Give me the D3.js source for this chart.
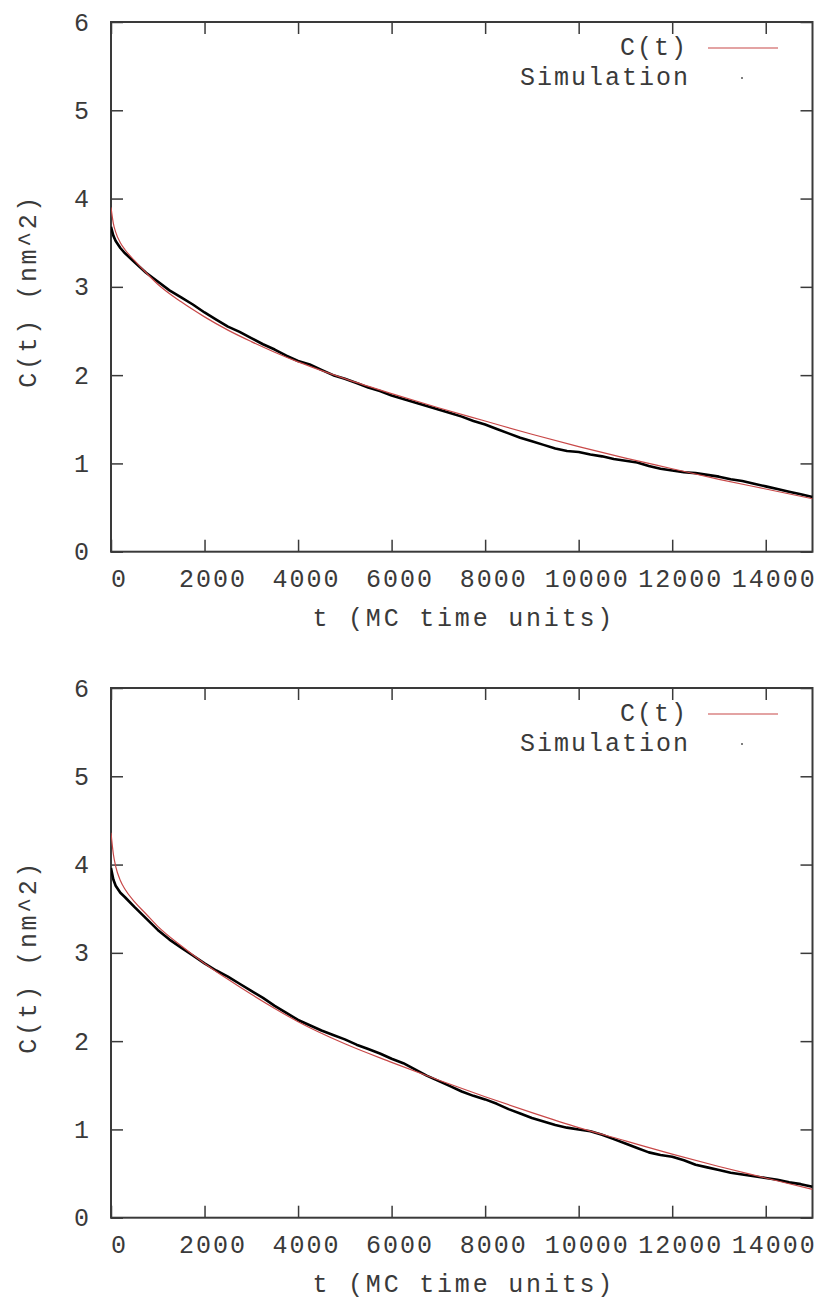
<!DOCTYPE html>
<html><head><meta charset="utf-8">
<script src="https://cdn.jsdelivr.net/npm/d3@7"></script>
<style>
html,body{margin:0;padding:0;background:#fff;}
svg text{font-family:"Liberation Mono",monospace;fill:#3a3a3a;}
</style></head>
<body><svg id="chart" width="819" height="1302"></svg>
<script>
// ---- data ----
const xTicks = [0, 2000, 4000, 6000, 8000, 10000, 12000, 14000];
const yTicks = [0, 1, 2, 3, 4, 5, 6];
const xTitle = "t (MC time units)";
const yTitle = "C(t) (nm^2)";
const legendFit = "C(t)";
const legendSim = "Simulation";

const fitT = [0,50,100,200,300,500,750,1000,1500,2000,2500,3000,3500,4000,5000,6000,7000,8000,9000,10000,11000,12000,13000,14000,15000];
const fitTop = [3.90,3.72,3.62,3.50,3.42,3.30,3.16,3.03,2.83,2.66,2.51,2.38,2.26,2.15,1.96,1.79,1.63,1.48,1.33,1.19,1.06,0.94,0.82,0.71,0.60];
const fitBottom = [4.36,4.12,3.98,3.82,3.72,3.58,3.44,3.30,3.08,2.88,2.70,2.53,2.37,2.22,1.97,1.76,1.56,1.37,1.19,1.02,0.87,0.72,0.58,0.45,0.32];

const simT = [0,50,100,200,300,500,750,1000,1250,1500,1750,2000,2250,2500,2750,3000,3250,3500,3750,4000,4250,4500,4750,5000,5250,5500,5750,6000,6250,6500,6750,7000,7250,7500,7750,8000,8250,8500,8750,9000,9250,9500,9750,10000,10250,10500,10750,11000,11250,11500,11750,12000,12250,12500,12750,13000,13250,13500,13750,14000,14250,14500,14750,15000];
const simTop = [3.68,3.58,3.52,3.44,3.38,3.28,3.16,3.06,2.96,2.88,2.80,2.71,2.63,2.55,2.49,2.42,2.35,2.29,2.22,2.16,2.12,2.06,2.00,1.96,1.91,1.86,1.82,1.77,1.73,1.69,1.65,1.61,1.57,1.53,1.48,1.44,1.39,1.34,1.29,1.25,1.21,1.17,1.14,1.13,1.10,1.08,1.05,1.03,1.01,0.97,0.94,0.92,0.90,0.89,0.87,0.85,0.82,0.80,0.77,0.74,0.71,0.68,0.65,0.62];
const simBottom = [3.96,3.83,3.76,3.68,3.63,3.52,3.39,3.26,3.15,3.06,2.97,2.88,2.80,2.73,2.65,2.57,2.49,2.40,2.32,2.24,2.18,2.12,2.07,2.02,1.96,1.91,1.86,1.80,1.75,1.68,1.61,1.55,1.49,1.43,1.38,1.34,1.29,1.23,1.18,1.13,1.09,1.05,1.02,1.00,0.98,0.94,0.89,0.84,0.79,0.74,0.71,0.69,0.65,0.60,0.57,0.54,0.51,0.49,0.47,0.45,0.43,0.40,0.38,0.35];

// ---- drawing ----
const svg = d3.select("#chart");
const L = 111, R = 812.5, PH = 529.7;
const panels = [
  {top: 22, fit: fitTop, sim: simTop},
  {top: 688, fit: fitBottom, sim: simBottom}
];
const FS = 25, LS = 2.0;
const FONT = '"Liberation Mono",monospace';
const x = d3.scaleLinear().domain([0, 15000]).range([L, R]);

panels.forEach(p => {
  const y = d3.scaleLinear().domain([0, 6]).range([p.top + PH, p.top]);
  const g = svg.append("g");
  const tickLen = 12;
  const axisColor = "#3a3a3a";

  // frame
  g.append("rect").attr("x", L).attr("y", p.top).attr("width", R - L).attr("height", PH)
    .attr("fill", "none").attr("stroke", axisColor).attr("stroke-width", 2);

  // x ticks (bottom + mirrored top)
  const xb = g.append("g").attr("transform", `translate(0,${p.top + PH})`)
    .call(d3.axisBottom(x).tickValues(xTicks).tickSizeInner(-tickLen).tickSizeOuter(0).tickFormat(d => d).tickPadding(18));
  xb.select(".domain").remove();
  xb.selectAll("line").attr("stroke", axisColor).attr("stroke-width", 1.5);
  xb.selectAll("text").attr("font-size", FS).attr("letter-spacing", LS)
    .attr("dx", 8).attr("dy", "0.7em").style("font-family", FONT).attr("fill", "#3a3a3a");
  const xt = g.append("g").attr("transform", `translate(0,${p.top})`)
    .call(d3.axisTop(x).tickValues(xTicks).tickSizeInner(-tickLen).tickSizeOuter(0).tickFormat(""));
  xt.select(".domain").remove();
  xt.selectAll("line").attr("stroke", axisColor).attr("stroke-width", 1.5);

  // y ticks (left + mirrored right)
  const yl = g.append("g").attr("transform", `translate(${L},0)`)
    .call(d3.axisLeft(y).tickValues(yTicks).tickSizeInner(-tickLen).tickSizeOuter(0).tickFormat(d => d).tickPadding(22));
  yl.select(".domain").remove();
  yl.selectAll("line").attr("stroke", axisColor).attr("stroke-width", 1.5);
  yl.selectAll("text").attr("font-size", FS).style("font-family", FONT).attr("fill", "#3a3a3a");
  const yr = g.append("g").attr("transform", `translate(${R},0)`)
    .call(d3.axisRight(y).tickValues(yTicks).tickSizeInner(-tickLen).tickSizeOuter(0).tickFormat(""));
  yr.select(".domain").remove();
  yr.selectAll("line").attr("stroke", axisColor).attr("stroke-width", 1.5);

  // titles
  g.append("text").attr("x", (L + R) / 2 + 2).attr("y", p.top + PH + 68)
    .attr("text-anchor", "middle").attr("dominant-baseline", "central")
    .attr("font-size", FS).attr("letter-spacing", LS + 0.8).text(xTitle);
  g.append("text").attr("transform", `translate(29,${p.top + PH / 2 + 4}) rotate(-90)`)
    .attr("text-anchor", "middle").attr("dominant-baseline", "central")
    .attr("font-size", FS).attr("letter-spacing", LS + 0.6).text(yTitle);

  // series
  const fitData = fitT.map((t, i) => [t, p.fit[i]]);
  const simData = simT.map((t, i) => [t, p.sim[i]]);
  const clipId = "clip" + p.top;
  svg.append("clipPath").attr("id", clipId).append("rect")
    .attr("x", L).attr("y", p.top).attr("width", R - L).attr("height", PH);
  g.append("path").datum(simData).attr("clip-path", `url(#${clipId})`)
    .attr("d", d3.line().x(d => x(d[0])).y(d => y(d[1])).curve(d3.curveLinear)).attr("fill", "none")
    .attr("stroke", "#000").attr("stroke-width", 2.6).attr("stroke-linejoin", "round");
  g.append("path").datum(fitData).attr("clip-path", `url(#${clipId})`)
    .attr("d", d3.line().x(d => x(d[0])).y(d => y(d[1])).curve(d3.curveMonotoneX))
    .attr("fill", "none").attr("stroke", "#c84848").attr("stroke-width", 1.2);

  // legend
  g.append("text").attr("x", 688).attr("y", p.top + 26).attr("text-anchor", "end")
    .attr("dominant-baseline", "central").attr("font-size", FS).attr("letter-spacing", LS).text(legendFit);
  g.append("line").attr("x1", 708).attr("x2", 778).attr("y1", p.top + 26).attr("y2", p.top + 26)
    .attr("stroke", "#c84848").attr("stroke-width", 1.2);
  g.append("text").attr("x", 690).attr("y", p.top + 56).attr("text-anchor", "end")
    .attr("dominant-baseline", "central").attr("font-size", FS).attr("letter-spacing", LS).text(legendSim);
  g.append("circle").attr("cx", 742).attr("cy", p.top + 56).attr("r", 1).attr("fill", "#555");
});
</script></body></html>
